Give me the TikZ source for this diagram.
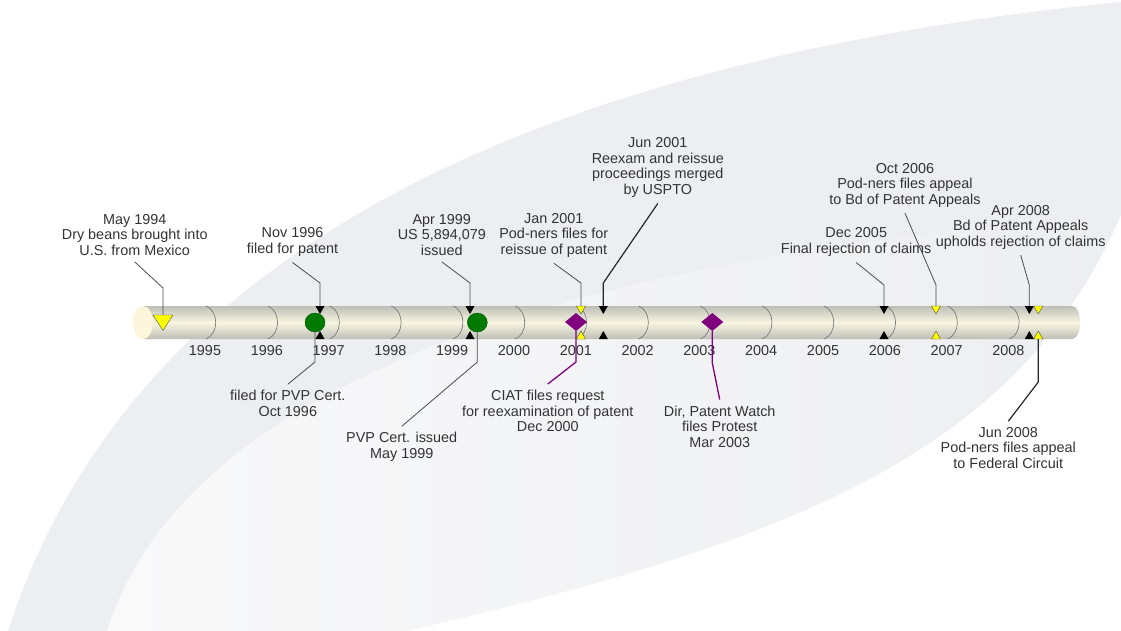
\documentclass[tikz,border=0pt]{standalone}
\usepackage{fontspec}
\setmainfont{Liberation Sans}
\definecolor{bgGrey}{HTML}{EDEEF1}
\definecolor{bgLight}{HTML}{F9F9FA}
\definecolor{cylEdge}{HTML}{BEBEB6}
\definecolor{cylMid}{HTML}{F8F5E1}
\definecolor{capCol}{HTML}{FCF6DA}
\definecolor{arcCol}{HTML}{6E6E6E}
\definecolor{txtCol}{HTML}{333333}
\definecolor{lnCol}{HTML}{4A4A4A}
\definecolor{mkYellow}{HTML}{FFFF00}
\definecolor{mkGreen}{HTML}{007A00}
\definecolor{mkPurple}{HTML}{800080}
\begin{document}
\begin{tikzpicture}[x=1pt,y=-1pt,
  lab/.style={align=center,font=\fontsize{14.4}{15.5}\selectfont,text=txtCol,inner sep=0pt},
  yearlab/.style={font=\fontsize{14.4}{15.5}\selectfont,text=txtCol,inner sep=0pt},
  conn/.style={draw=lnCol,line width=0.8pt},
  boldconn/.style={draw=black!85,line width=1.2pt},
  pconn/.style={draw=mkPurple,line width=1.3pt},
  ymark/.style={fill=mkYellow,draw=black!70,line width=0.4pt},
  bmark/.style={fill=black},
  gmark/.style={fill=mkGreen,draw=mkGreen!70!black,line width=0.4pt},
  pmark/.style={fill=mkPurple},
  arcline/.style={draw=arcCol,line width=0.6pt}
]
\useasboundingbox (0,0) rectangle (1121,631);
% background
\fill[white] (0,0) rectangle (1121,631);
\fill[bgGrey] (8,631) .. controls (90,380) and (330,80) .. (1121,2) -- (1121,631) -- cycle;
\shade[left color=bgLight, right color=bgGrey] (107,631) .. controls (180,400) and (520,260) .. (1121,215) .. controls (1020,450) and (800,540) .. (407,631) -- cycle;
\fill[white] (407,631) .. controls (800,540) and (1020,450) .. (1121,215) -- (1121,631) -- cycle;

% cylinder
\shade[top color=cylEdge, bottom color=cylEdge, middle color=cylMid]
  (143,306) -- (1072,306) .. controls (1082.7,306) and (1082.7,339) .. (1072,339) -- (143,339) -- cycle;
\fill[capCol] (143,322.5) ellipse [x radius=10, y radius=16.5];

% year separators and labels
\foreach \i in {0,...,13} {
  \pgfmathsetmacro\xx{205+61.8*\i}
  \pgfmathtruncatemacro\yr{1995+\i}
  \draw[arcline] (\xx+1,306) .. controls (\xx+14,311) and (\xx+14,334) .. (\xx+1,339);
  \node[yearlab] (y\yr) at (\xx,351) {\yr};
}

% labels above
\node[lab] (lMay94) at (134.7,235) {May 1994\\Dry beans brought into\\U.S. from Mexico};
\node[lab] (lNov96) at (292.5,242) {Nov 1996\\filed for patent};
\node[lab] (lApr99) at (441.8,235) {Apr 1999\\US 5,894,079\\issued};
\node[lab] (lJan01) at (553.8,235) {Jan 2001\\Pod-ners files for\\reissue of patent};
\node[lab] (lJun01) at (657.8,167.5) {Jun 2001\\Reexam and reissue\\proceedings merged\\by USPTO};
\node[lab] (lDec05) at (856.2,242) {Dec 2005\\Final rejection of claims};
\node[lab] (lOct06) at (905,185) {Oct 2006\\Pod-ners files appeal\\to Bd of Patent Appeals};
\node[lab] (lApr08) at (1020.7,227) {Apr 2008\\Bd of Patent Appeals\\upholds rejection of claims};
% labels below
\node[lab] (bOct96) at (287.8,403.5) {filed for PVP Cert.\\Oct 1996};
\node[lab] (bMay99) at (401.7,447) {PVP Cert. issued\\May 1999};
\node[lab] (bDec00) at (547.8,411) {CIAT files request\\for reexamination of patent\\Dec 2000};
\node[lab] (bMar03) at (719.7,426.5) {Dir, Patent Watch\\files Protest\\Mar 2003};
\node[lab] (bJun08) at (1008.3,448) {Jun 2008\\Pod-ners files appeal\\to Federal Circuit};

% marker anchor coordinates
\coordinate (m94) at (163,315);
\coordinate (m96) at (320,306);
\coordinate (m99) at (470,306);
\coordinate (mJan01) at (581,306);
\coordinate (mJun01) at (603.3,306);
\coordinate (m05) at (884,306);
\coordinate (m06) at (936,306);
\coordinate (m08) at (1029.3,306);
\coordinate (g96) at (315,332);
\coordinate (g99) at (477.3,332);
\coordinate (d00) at (576,331);
\coordinate (d03) at (712.3,331);
\coordinate (yJun08) at (1038.3,338);
% bends
\coordinate (k94) at (163,288);
\coordinate (k96) at (320,283);
\coordinate (k99) at (470,283);
\coordinate (kJan01) at (581,283);
\coordinate (kJun01) at (603.3,283);
\coordinate (k05) at (884,285);
\coordinate (k06) at (936,285);
\coordinate (k08) at (1029.3,285);
\coordinate (kg96) at (315,362);
\coordinate (kg99) at (477.3,362);
\coordinate (kd00) at (576,362);
\coordinate (kd03) at (712.3,363);
\coordinate (kJun08) at (1038.3,382);

% connectors
\draw[conn] ([yshift=-6pt]lMay94.south) -- (k94) -- (m94);
\draw[conn] ([yshift=-6pt]lNov96.south) -- (k96) -- (m96);
\draw[conn] ([yshift=-6pt]lApr99.south) -- (k99) -- (m99);
\draw[conn] ([yshift=-6pt]lJan01.south) -- (kJan01) -- (mJan01);
\draw[boldconn] ([yshift=-6pt]lJun01.south) -- (kJun01) -- (mJun01);
\draw[conn] ([yshift=-6pt]lDec05.south) -- (k05) -- (m05);
\draw[conn] ([yshift=-6pt]lOct06.south) -- (k06) -- (m06);
\draw[conn] ([yshift=-6pt]lApr08.south) -- (k08) -- (m08);
\draw[conn] (g96) -- (kg96) -- ([yshift=6pt]bOct96.north);
\draw[conn] (g99) -- (kg99) -- ([yshift=6pt]bMay99.north);
\draw[pconn] (d00) -- (kd00) -- ([yshift=6pt]bDec00.north);
\draw[pconn] (d03) -- (kd03) -- ([yshift=6pt]bMar03.north);
\draw[boldconn] (yJun08) -- (kJun08) -- ([yshift=6pt]bJun08.north);

% markers
\filldraw[ymark] (153,315) -- (173,315) -- (163,330.5) -- cycle;
\foreach \x in {320,470,603.3,884,1029.3} {
  \fill[bmark] (\x-4.5,306) -- (\x+4.5,306) -- (\x,314) -- cycle;
  \fill[bmark] (\x-4.5,339) -- (\x+4.5,339) -- (\x,331) -- cycle;
}
\foreach \x in {581,936,1038.3} {
  \filldraw[ymark] (\x-4.5,306) -- (\x+4.5,306) -- (\x,314) -- cycle;
  \filldraw[ymark] (\x-4.5,339) -- (\x+4.5,339) -- (\x,331) -- cycle;
}
\filldraw[gmark] (315,322.5) ellipse [x radius=10, y radius=9.5];
\filldraw[gmark] (477.3,322.5) ellipse [x radius=10, y radius=9.5];
\fill[pmark] (576,313) -- (587,322) -- (576,331) -- (565,322) -- cycle;
\fill[pmark] (712.3,313) -- (723.3,322) -- (712.3,331) -- (701.3,322) -- cycle;
\end{tikzpicture}
\end{document}
